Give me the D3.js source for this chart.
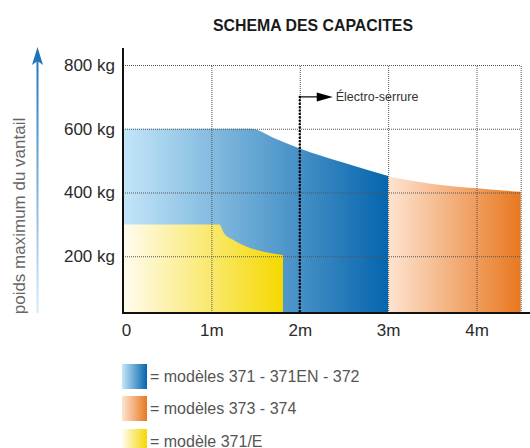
<!DOCTYPE html>
<html>
<head>
<meta charset="utf-8">
<script src="https://cdn.jsdelivr.net/npm/d3@7"></script>
<style>
  body { margin: 0; background: #fff; }
  svg { display: block; font-family: "Liberation Sans", Arial, sans-serif; }
  .grid line { stroke: #555; stroke-width: 1; stroke-dasharray: 1,1; }
  .axis text { font-size: 17px; fill: #2a2a2a; }
</style>
</head>
<body>
<div id="chart"></div>
<script>
// values (x in metres, y in kg)
var xTicks = [0, 1, 2, 3, 4];
var xTickLabels = ["0", "1m", "2m", "3m", "4m"];
var yTicks = [200, 400, 600, 800];
var xMax = 4.5;

// upper edge of each capacity zone
var blueTop = [[0, 600], [1.45, 600], [1.7, 572], [2, 538], [2.5, 493], [3, 452]];
var orangeTop = [[3, 450], [3.5, 427], [4, 413], [4.5, 402]];
var yellowTop = [[0, 300], [1.09, 300], [1.14, 274], [1.25, 251], [1.4, 230], [1.59, 214], [1.81, 204]];

var lockAt = 2, lockTop = 700;
var legendLabels = ["= modèles 371 - 371EN - 372", "= modèles 373 - 374", "= modèle 371/E"];

var W = 530, H = 448;
var pLeft = 123, pRight = 520.7, pTop = 65, pBottom = 313;

var svg = d3.select("#chart").append("svg")
    .attr("width", W)
    .attr("height", H);

var x = d3.scaleLinear().domain([0, xMax]).range([pLeft, pRight]);
var y = d3.scaleLinear().domain([0, 800]).range([320, pTop]);

// gradients
var defs = svg.append("defs");
var grads = [
    {id: "gBlue", from: "#c4e6f9", to: "#0565ad", x0: 0, x1: 3},
    {id: "gOrange", from: "#fde4d2", to: "#e8781f", x0: 3, x1: 4.5},
    {id: "gYellow", from: "#fffcf0", to: "#f5d800", x0: 0, x1: 1.81}
];
grads.forEach(function(g){
    var lg = defs.append("linearGradient").attr("id", g.id)
        .attr("gradientUnits", "userSpaceOnUse")
        .attr("x1", x(g.x0)).attr("x2", x(g.x1)).attr("y1", 0).attr("y2", 0);
    lg.append("stop").attr("offset", 0).attr("stop-color", g.from);
    lg.append("stop").attr("offset", 1).attr("stop-color", g.to);
    var lg2 = defs.append("linearGradient").attr("id", g.id + "L")
        .attr("x1", 0).attr("x2", 1).attr("y1", 0).attr("y2", 0);
    lg2.append("stop").attr("offset", 0).attr("stop-color", g.from);
    lg2.append("stop").attr("offset", 1).attr("stop-color", g.to);
});
var ag = defs.append("linearGradient").attr("id", "gArrow")
    .attr("x1", 0).attr("x2", 0).attr("y1", 1).attr("y2", 0);
ag.append("stop").attr("offset", 0).attr("stop-color", "#d6ecf9");
ag.append("stop").attr("offset", 1).attr("stop-color", "#1f78bf");

// title
svg.append("text")
    .attr("x", 313).attr("y", 31)
    .attr("text-anchor", "middle")
    .attr("textLength", 200).attr("lengthAdjust", "spacingAndGlyphs")
    .style("font-weight", "bold").style("font-size", "17px").style("fill", "#1a1a1a")
    .text("SCHEMA DES CAPACITES");

// areas
var area = d3.area()
    .x(function(d){ return x(d[0]); })
    .y0(pBottom)
    .y1(function(d){ return y(d[1]); })
    .curve(d3.curveMonotoneX);

svg.append("path").datum(blueTop).attr("d", area).attr("fill", "url(#gBlue)");
svg.append("path").datum(orangeTop).attr("d", area).attr("fill", "url(#gOrange)");
svg.append("path").datum(yellowTop).attr("d", area).attr("fill", "url(#gYellow)");

// horizontal grid + y labels
svg.append("g")
    .attr("class", "axis grid")
    .attr("transform", "translate(" + pLeft + ",0)")
    .call(d3.axisLeft(y).tickValues(yTicks).tickSize(-(pRight - pLeft)).tickPadding(8)
        .tickFormat(function(d){ return d + " kg"; }))
    .call(function(g){ g.select(".domain").remove(); });

// vertical grid + x labels
svg.append("g")
    .attr("class", "axis grid")
    .attr("transform", "translate(0," + pBottom + ")")
    .call(d3.axisBottom(x).tickValues(xTicks.concat([xMax])).tickSize(-(pBottom - pTop)).tickPadding(11)
        .tickFormat(function(d){ var i = xTicks.indexOf(d); return i < 0 ? "" : xTickLabels[i]; }))
    .call(function(g){
        g.select(".domain").remove();
        g.selectAll(".tick").filter(function(d){ return d === 0; }).select("line").remove();
        g.selectAll(".tick").filter(function(d){ return d === 0; }).select("text").attr("dx", 3);
    });

// axis lines
svg.append("line").attr("x1", pLeft).attr("x2", pLeft).attr("y1", 48).attr("y2", pBottom + 1)
    .attr("stroke", "#111").attr("stroke-width", 2);
svg.append("line").attr("x1", pLeft - 1).attr("x2", W).attr("y1", pBottom).attr("y2", pBottom)
    .attr("stroke", "#111").attr("stroke-width", 2);

// électro-serrure marker
svg.append("line")
    .attr("x1", x(lockAt)).attr("x2", x(lockAt))
    .attr("y1", y(lockTop)).attr("y2", pBottom)
    .attr("stroke", "#000").attr("stroke-width", 2.4)
    .attr("stroke-dasharray", "0,3.4").attr("stroke-linecap", "round");
svg.append("line")
    .attr("x1", x(lockAt)).attr("x2", x(lockAt) + 20)
    .attr("y1", y(lockTop)).attr("y2", y(lockTop))
    .attr("stroke", "#000").attr("stroke-width", 1.2);
svg.append("path")
    .attr("d", d3.line()([[x(lockAt) + 17, y(lockTop) - 4.5], [x(lockAt) + 33, y(lockTop)], [x(lockAt) + 17, y(lockTop) + 4.5]]) + "Z")
    .attr("fill", "#000");
svg.append("text")
    .attr("x", x(lockAt) + 36).attr("y", y(lockTop)).attr("dy", "0.35em")
    .style("font-size", "12.5px").style("fill", "#333")
    .text("Électro-serrure");

// y axis title with blue arrow
svg.append("rect").attr("x", 36.5).attr("y", 58).attr("width", 2).attr("height", pBottom - 58)
    .attr("fill", "url(#gArrow)");
svg.append("path")
    .attr("d", "M37.5,47 L43,65 L37.5,61 L32,65 Z")
    .attr("fill", "#1f74bb");
svg.append("text")
    .attr("transform", "translate(25,216) rotate(-90)")
    .attr("text-anchor", "middle")
    .style("font-size", "17px").style("fill", "#666")
    .text("poids maximum du vantail");

// legend
var legend = svg.selectAll(".legend")
    .data(legendLabels)
    .enter().append("g")
    .attr("class", "legend")
    .attr("transform", function(d, i){ return "translate(122," + [364, 396, 429][i] + ")"; });
legend.append("rect")
    .attr("width", 25).attr("height", 25)
    .attr("fill", function(d, i){ return "url(#" + ["gBlueL", "gOrangeL", "gYellowL"][i] + ")"; });
legend.append("text")
    .attr("x", 28).attr("y", 12.5).attr("dy", "0.35em")
    .style("font-size", "16px").style("fill", "#555")
    .text(function(d){ return d; });
</script>
</body>
</html>
